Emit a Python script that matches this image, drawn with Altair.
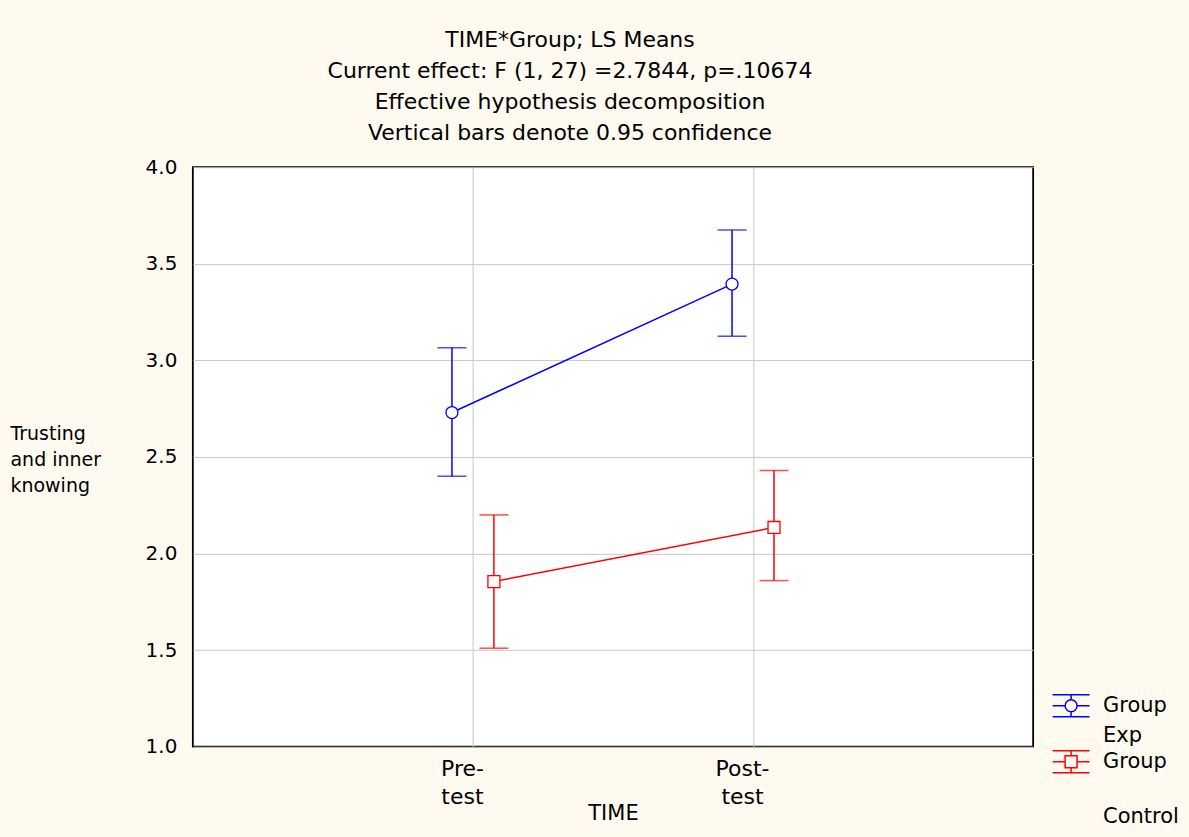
import altair as alt
import pandas as pd

times = ["Pre-test", "Post-test"]
groups = ["Exp", "Control"]
exp_mean = [2.73, 3.395]
exp_low = [2.40, 3.125]
exp_high = [3.065, 3.675]
ctl_mean = [1.855, 2.135]
ctl_low = [1.51, 1.86]
ctl_high = [2.20, 2.43]
title_lines = [
    "TIME*Group; LS Means",
    "Current effect: F (1, 27) =2.7844, p=.10674",
    "Effective hypothesis decomposition",
    "Vertical bars denote 0.95 confidence",
]
legend_keys = ["Exp", "Exp:2", "Control", "Control:2", "Control:3"]
legend_labels = ["Group", "Exp", "Group", "", "Control"]

rows = []
for g, m, lo, hi in [("Exp", exp_mean, exp_low, exp_high), ("Control", ctl_mean, ctl_low, ctl_high)]:
    for i, t in enumerate(times):
        rows.append({"time": t, "group": g, "mean": m[i], "low": lo[i], "high": hi[i]})
df = pd.DataFrame(rows)

FONT = "DejaVu Sans"
BG = "#fefaf0"
BLUE, RED = "#0000ff", "#ff0000"

circle_glyph = ("M-1.42,-0.85H1.42M-1.42,0.85H1.42M-1.42,0H-0.46M0.46,0H1.42M0,-0.85V-0.46M0,0.46V0.85"
                "M0.46,0A0.46,0.46 0 1,1 -0.46,0A0.46,0.46 0 1,1 0.46,0Z")
square_glyph = ("M-1.42,-0.85H1.42M-1.42,0.85H1.42M-1.42,0H-0.46M0.46,0H1.42M0,-0.85V-0.46M0,0.46V0.85"
                "M-0.46,-0.46H0.46V0.46H-0.46Z")
empty_glyph = "M0,0"

x_enc = alt.X(
    "time:N", sort=times,
    scale=alt.Scale(type="point", padding=1),
    axis=alt.Axis(
        title="TIME", titleFontSize=21, titleFont=FONT, titleFontWeight="normal",
        titleY=67, titleBaseline="middle",
        labelAngle=0, labelFontSize=22, labelFont=FONT, labelLineHeight=28,
        labelExpr="split(replace(datum.label, '-', '-|'), '|')",
        labelBaseline="top", labelPadding=12, labelOffset=-11,
        ticks=False, domain=False, grid=True, gridColor="#c8c8c8",
    ),
)
xoff = alt.XOffset("group:N", scale=alt.Scale(domain=groups, range=[-42, 42]))
y_enc = alt.Y(
    "mean:Q",
    scale=alt.Scale(domain=[1, 4], nice=False, zero=False),
    axis=alt.Axis(
        values=[1.0, 1.5, 2.0, 2.5, 3.0, 3.5, 4.0], format=".1f",
        title=["Trusting", "and inner", "knowing"], titleAngle=0, titleAlign="left",
        titleBaseline="top", titleX=-183, titleY=258, titleFontSize=19, titleLineHeight=26,
        titleFont=FONT, titleFontWeight="normal",
        labelFontSize=20, labelFont=FONT, labelPadding=16,
        ticks=False, domain=False, grid=True, gridColor="#c8c8c8",
    ),
)
color_plain = alt.Color("group:N", scale=alt.Scale(domain=groups, range=[BLUE, RED]), legend=None)

label_expr = " : ".join(
    "datum.value == '%s' ? '%s'" % (k, l) for k, l in zip(legend_keys, legend_labels)
) + " : ''"
legend = alt.Legend(
    title=None, orient="none", legendX=865, legendY=525,
    labelFontSize=21, labelFont=FONT, labelColor="black", labelBaseline="middle",
    labelExpr=label_expr, labelOffset=18,
    symbolSize=676, symbolStrokeWidth=1.5, symbolOpacity=1,
    symbolFillColor="transparent", rowPadding=1,
)
stroke_leg = alt.Stroke(
    "group:N",
    scale=alt.Scale(domain=legend_keys, range=[BLUE, "transparent", RED, "transparent", "transparent"]),
    legend=legend,
)
shape_leg = alt.Shape(
    "group:N",
    scale=alt.Scale(domain=legend_keys, range=[circle_glyph, empty_glyph, square_glyph, empty_glyph, empty_glyph]),
    legend=legend,
)

base = alt.Chart(df)
rules = base.mark_rule(strokeWidth=1.5).encode(x=x_enc, xOffset=xoff, y=alt.Y("low:Q"), y2="high:Q", color=color_plain)
tick_hi = base.mark_tick(size=29, thickness=1.5).encode(x=x_enc, xOffset=xoff, y=alt.Y("high:Q"), color=color_plain)
tick_lo = base.mark_tick(size=29, thickness=1.5).encode(x=x_enc, xOffset=xoff, y=alt.Y("low:Q"), color=color_plain)
lines = base.mark_line(strokeWidth=1.5).encode(x=x_enc, xOffset=xoff, y=y_enc, color=color_plain)
pts_exp = base.transform_filter(alt.datum.group == "Exp").mark_point(
    shape="circle", filled=False, fill="white", size=144, strokeWidth=1.3, opacity=1
).encode(x=x_enc, xOffset=xoff, y=alt.Y("mean:Q"), color=color_plain)
pts_ctl = base.transform_filter(alt.datum.group == "Control").mark_point(
    shape="square", filled=False, fill="white", size=144, strokeWidth=1.3, opacity=1
).encode(x=x_enc, xOffset=xoff, y=alt.Y("mean:Q"), color=color_plain)
legend_layer = base.mark_point(filled=False, fill="transparent", opacity=0, strokeWidth=1.5, size=676).encode(
    x=x_enc, xOffset=xoff, y=alt.Y("mean:Q"), stroke=stroke_leg, shape=shape_leg,
)

chart = alt.layer(legend_layer, lines, rules, tick_hi, tick_lo, pts_exp, pts_ctl).properties(
    width=841, height=580,
    background=BG,
    padding={"left": 10, "top": 29, "right": 10, "bottom": 10},
    title=alt.TitleParams(
        text=title_lines, fontSize=22, font=FONT, fontWeight="normal", lineHeight=31,
        anchor="middle", dx=-43, offset=12, color="black",
    ),
).configure(
    view=alt.ViewConfig(fill="white", stroke="black", strokeWidth=1.8),
)

chart.save("out.html", embed_options={"renderer": "svg", "actions": False})
